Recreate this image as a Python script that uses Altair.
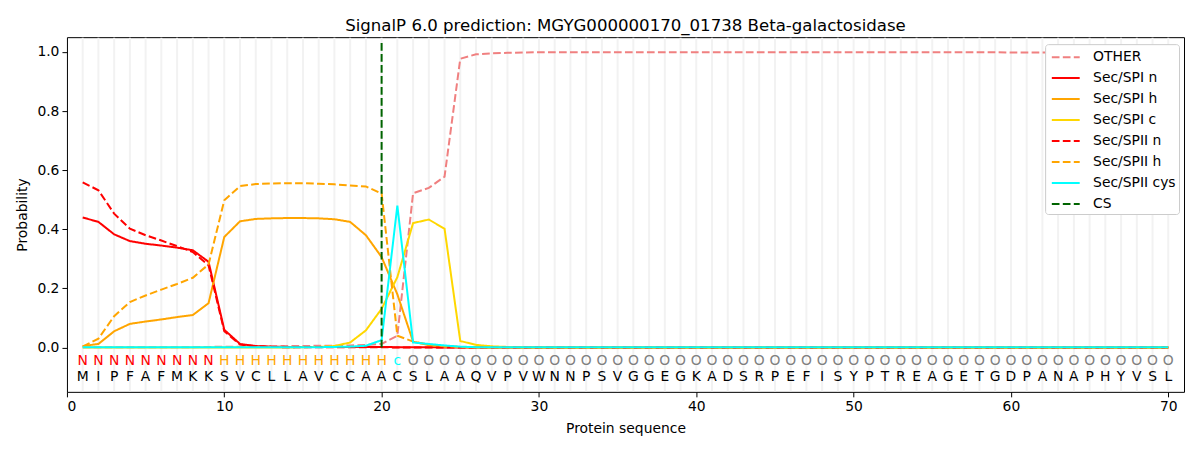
import altair as alt
import pandas as pd

SEQUENCE = list("MIPFAFMKKSVCLLAVCCAACSLAAQVPVWNNPSVGGEGKADSRPEFISYPTREAGETGDPANAPHYVSL")
LABELS = list("NNNNNNNNN" + "HHHHHHHHHHH" + "c" + "O" * 49)
LABEL_COLORS = {"N": "#ff0000", "H": "#ffa500", "c": "#00ffff", "O": "#808080"}

POSITIONS = list(range(1, 71))

OTHER = [0.001, 0.001, 0.001, 0.001, 0.001, 0.001, 0.001, 0.001, 0.002, 0.003,
         0.003, 0.004, 0.004, 0.005, 0.005, 0.006, 0.006, 0.007, 0.009, 0.012,
         0.040, 0.522, 0.540, 0.578, 0.977, 0.992, 0.995, 0.997, 0.998, 0.999,
         0.999, 0.999, 0.999, 0.999, 0.999, 0.999, 0.999, 0.999, 0.999, 0.999,
         0.999, 0.999, 0.999, 0.999, 0.999, 0.999, 0.999, 0.999, 0.999, 0.999,
         0.999, 0.999, 0.999, 0.999, 0.999, 0.999, 0.999, 0.999, 0.999, 0.998,
         0.998, 0.998, 0.998, 0.998, 0.998, 0.998, 0.998, 0.998, 0.998, 0.999]
SPI_N = [0.440, 0.425, 0.383, 0.360, 0.351, 0.345, 0.338, 0.329, 0.290, 0.060,
         0.012, 0.005, 0.003, 0.002, 0.002, 0.002, 0.002, 0.002, 0.002, 0.002,
         0.001, 0.001, 0.001, 0.000, 0.000, 0.000, 0.000, 0.000, 0.000, 0.000,
         0.000, 0.000, 0.000, 0.000, 0.000, 0.000, 0.000, 0.000, 0.000, 0.000,
         0.000, 0.000, 0.000, 0.000, 0.000, 0.000, 0.000, 0.000, 0.000, 0.000,
         0.000, 0.000, 0.000, 0.000, 0.000, 0.000, 0.000, 0.000, 0.000, 0.000,
         0.000, 0.000, 0.000, 0.000, 0.000, 0.000, 0.000, 0.000, 0.000, 0.000]
SPI_H = [0.005, 0.012, 0.055, 0.080, 0.088, 0.095, 0.103, 0.110, 0.150, 0.374,
         0.427, 0.435, 0.437, 0.438, 0.438, 0.437, 0.434, 0.425, 0.380, 0.306,
         0.180, 0.020, 0.008, 0.003, 0.001, 0.000, 0.000, 0.000, 0.000, 0.000,
         0.000, 0.000, 0.000, 0.000, 0.000, 0.000, 0.000, 0.000, 0.000, 0.000,
         0.000, 0.000, 0.000, 0.000, 0.000, 0.000, 0.000, 0.000, 0.000, 0.000,
         0.000, 0.000, 0.000, 0.000, 0.000, 0.000, 0.000, 0.000, 0.000, 0.000,
         0.000, 0.000, 0.000, 0.000, 0.000, 0.000, 0.000, 0.000, 0.000, 0.000]
SPI_C = [0.000, 0.000, 0.000, 0.000, 0.000, 0.000, 0.000, 0.000, 0.000, 0.000,
         0.000, 0.000, 0.000, 0.000, 0.001, 0.002, 0.005, 0.017, 0.058, 0.131,
         0.238, 0.421, 0.433, 0.402, 0.022, 0.009, 0.004, 0.002, 0.001, 0.000,
         0.000, 0.000, 0.000, 0.000, 0.000, 0.000, 0.000, 0.000, 0.000, 0.000,
         0.000, 0.000, 0.000, 0.000, 0.000, 0.000, 0.000, 0.000, 0.000, 0.000,
         0.000, 0.000, 0.000, 0.000, 0.000, 0.000, 0.000, 0.000, 0.000, 0.000,
         0.000, 0.000, 0.000, 0.000, 0.000, 0.000, 0.000, 0.000, 0.000, 0.000]
SPII_N = [0.559, 0.532, 0.453, 0.402, 0.380, 0.362, 0.343, 0.323, 0.278, 0.055,
          0.010, 0.004, 0.002, 0.001, 0.001, 0.001, 0.001, 0.001, 0.001, 0.001,
          0.000, 0.000, 0.000, 0.000, 0.000, 0.000, 0.000, 0.000, 0.000, 0.000,
          0.000, 0.000, 0.000, 0.000, 0.000, 0.000, 0.000, 0.000, 0.000, 0.000,
          0.000, 0.000, 0.000, 0.000, 0.000, 0.000, 0.000, 0.000, 0.000, 0.000,
          0.000, 0.000, 0.000, 0.000, 0.000, 0.000, 0.000, 0.000, 0.000, 0.000,
          0.000, 0.000, 0.000, 0.000, 0.000, 0.000, 0.000, 0.000, 0.000, 0.000]
SPII_H = [0.003, 0.030, 0.106, 0.154, 0.176, 0.196, 0.215, 0.236, 0.281, 0.498,
          0.546, 0.553, 0.555, 0.556, 0.556, 0.554, 0.552, 0.548, 0.545, 0.521,
          0.040, 0.020, 0.010, 0.004, 0.002, 0.001, 0.000, 0.000, 0.000, 0.000,
          0.000, 0.000, 0.000, 0.000, 0.000, 0.000, 0.000, 0.000, 0.000, 0.000,
          0.000, 0.000, 0.000, 0.000, 0.000, 0.000, 0.000, 0.000, 0.000, 0.000,
          0.000, 0.000, 0.000, 0.000, 0.000, 0.000, 0.000, 0.000, 0.000, 0.000,
          0.000, 0.000, 0.000, 0.000, 0.000, 0.000, 0.000, 0.000, 0.000, 0.000]
SPII_CYS = [0.001, 0.001, 0.001, 0.001, 0.001, 0.001, 0.001, 0.001, 0.001, 0.001,
            0.001, 0.001, 0.001, 0.001, 0.001, 0.001, 0.002, 0.003, 0.006, 0.025,
            0.480, 0.017, 0.012, 0.007, 0.003, 0.001, 0.001, 0.001, 0.001, 0.001,
            0.001, 0.001, 0.001, 0.001, 0.001, 0.001, 0.001, 0.001, 0.001, 0.001,
            0.001, 0.001, 0.001, 0.001, 0.001, 0.001, 0.001, 0.001, 0.001, 0.001,
            0.001, 0.001, 0.001, 0.001, 0.001, 0.001, 0.001, 0.001, 0.001, 0.001,
            0.001, 0.001, 0.001, 0.001, 0.001, 0.001, 0.001, 0.001, 0.001, 0.001]
CS_POSITION = [20]

SERIES_NAMES = ["OTHER", "Sec/SPI n", "Sec/SPI h", "Sec/SPI c",
                "Sec/SPII n", "Sec/SPII h", "Sec/SPII cys", "CS"]
SERIES_COLORS = ["#f08080", "#ff0000", "#ffa500", "#ffd700",
                 "#ff0000", "#ffa500", "#00ffff", "#006400"]
DASH = [7.7, 3.3]
SERIES_DASHES = [DASH, [1, 0], [1, 0], [1, 0], DASH, DASH, [1, 0], DASH]

series_values = [OTHER, SPI_N, SPI_H, SPI_C, SPII_N, SPII_H, SPII_CYS]
rows = []
for name, vals in zip(SERIES_NAMES[:-1], series_values):
    for p, v in zip(POSITIONS, vals):
        rows.append({"pos": p, "prob": v, "series": name})
lines_df = pd.DataFrame(rows)

letters_df = pd.DataFrame({
    "pos": POSITIONS,
    "aa": SEQUENCE,
    "lab": LABELS,
    "labcolor": [LABEL_COLORS[l] for l in LABELS],
})
cs_df = pd.DataFrame({"pos": CS_POSITION, "series": ["CS"]})
grid_df = pd.DataFrame({"pos": POSITIONS})

xscale = alt.Scale(domain=[0, 71], nice=False, zero=False)
yscale = alt.Scale(domain=[-0.15, 1.05], nice=False, zero=False)

xaxis = alt.Axis(values=[0, 10, 20, 30, 40, 50, 60, 70], format="d",
                 title="Protein sequence", grid=False, titlePadding=8)
yaxis = alt.Axis(values=[0.0, 0.2, 0.4, 0.6, 0.8, 1.0], format=".1f",
                 title="Probability", grid=False, titlePadding=7)

color_scale = alt.Scale(domain=SERIES_NAMES, range=SERIES_COLORS)
dash_scale = alt.Scale(domain=SERIES_NAMES, range=SERIES_DASHES)
legend = alt.Legend(title=None, orient="none", legendX=979, legendY=7,
                    symbolType="M-0.7,0H2.4", symbolSize=324, symbolStrokeWidth=2,
                    labelFontSize=13.9, labelFont="DejaVu Sans", labelColor="black",
                    strokeColor="#cccccc", fillColor="white", padding=3,
                    cornerRadius=3, rowPadding=4, labelOffset=25)

grid = alt.Chart(grid_df).mark_rule(color="#f2f2f2", strokeWidth=2).encode(
    x=alt.X("pos:Q", scale=xscale, axis=xaxis),
    y=alt.Y(datum=-0.148, scale=yscale, axis=yaxis),
    y2=alt.Y2(datum=1.048),
)

lines = alt.Chart(lines_df).mark_line(strokeWidth=2).encode(
    x=alt.X("pos:Q", scale=xscale, axis=xaxis),
    y=alt.Y("prob:Q", scale=yscale, axis=yaxis),
    color=alt.Color("series:N", scale=color_scale, legend=legend),
    strokeDash=alt.StrokeDash("series:N", scale=dash_scale, legend=legend),
    order=alt.Order("pos:Q"),
)

cs_rule = alt.Chart(cs_df).mark_rule(strokeWidth=2).encode(
    x=alt.X("pos:Q", scale=xscale, axis=xaxis),
    y=alt.Y(datum=0.0, scale=yscale, axis=yaxis),
    y2=alt.Y2(datum=1.04),
    color=alt.Color("series:N", scale=color_scale, legend=legend),
    strokeDash=alt.StrokeDash("series:N", scale=dash_scale, legend=legend),
)

lab_text = alt.Chart(letters_df).mark_text(fontSize=13.9, font="DejaVu Sans",
                                           baseline="middle").encode(
    x=alt.X("pos:Q", scale=xscale, axis=xaxis),
    y=alt.Y(datum=-0.047, scale=yscale, axis=yaxis),
    text="lab:N",
    fill=alt.Fill("labcolor:N", scale=None),
)

seq_text = alt.Chart(letters_df).mark_text(fontSize=13.9, font="DejaVu Sans",
                                           baseline="middle", color="black").encode(
    x=alt.X("pos:Q", scale=xscale, axis=xaxis),
    y=alt.Y(datum=-0.101, scale=yscale, axis=yaxis),
    text="aa:N",
)

chart = alt.layer(grid, lines, cs_rule, lab_text, seq_text).properties(
    width=1118,
    height=355,
    title=alt.Title("SignalP 6.0 prediction: MGYG000000170_01738 Beta-galactosidase",
                    fontSize=16.6, fontWeight="normal", font="DejaVu Sans",
                    color="black", offset=2),
    autosize=alt.AutoSizeParams(type="none"),
    padding={"left": 59, "top": 29, "right": 8, "bottom": 50},
).configure(
    font="DejaVu Sans"
).configure_view(
    stroke="black", strokeWidth=1
).configure_axis(
    domain=False, tickColor="black", tickSize=5, tickWidth=1,
    labelColor="black", labelFontSize=13.9, labelFont="DejaVu Sans",
    titleFontSize=13.9, titleFont="DejaVu Sans", titleFontWeight="normal",
    titleColor="black", labelPadding=3,
)

chart.save("out.html", embed_options={"renderer": "svg", "actions": False})
